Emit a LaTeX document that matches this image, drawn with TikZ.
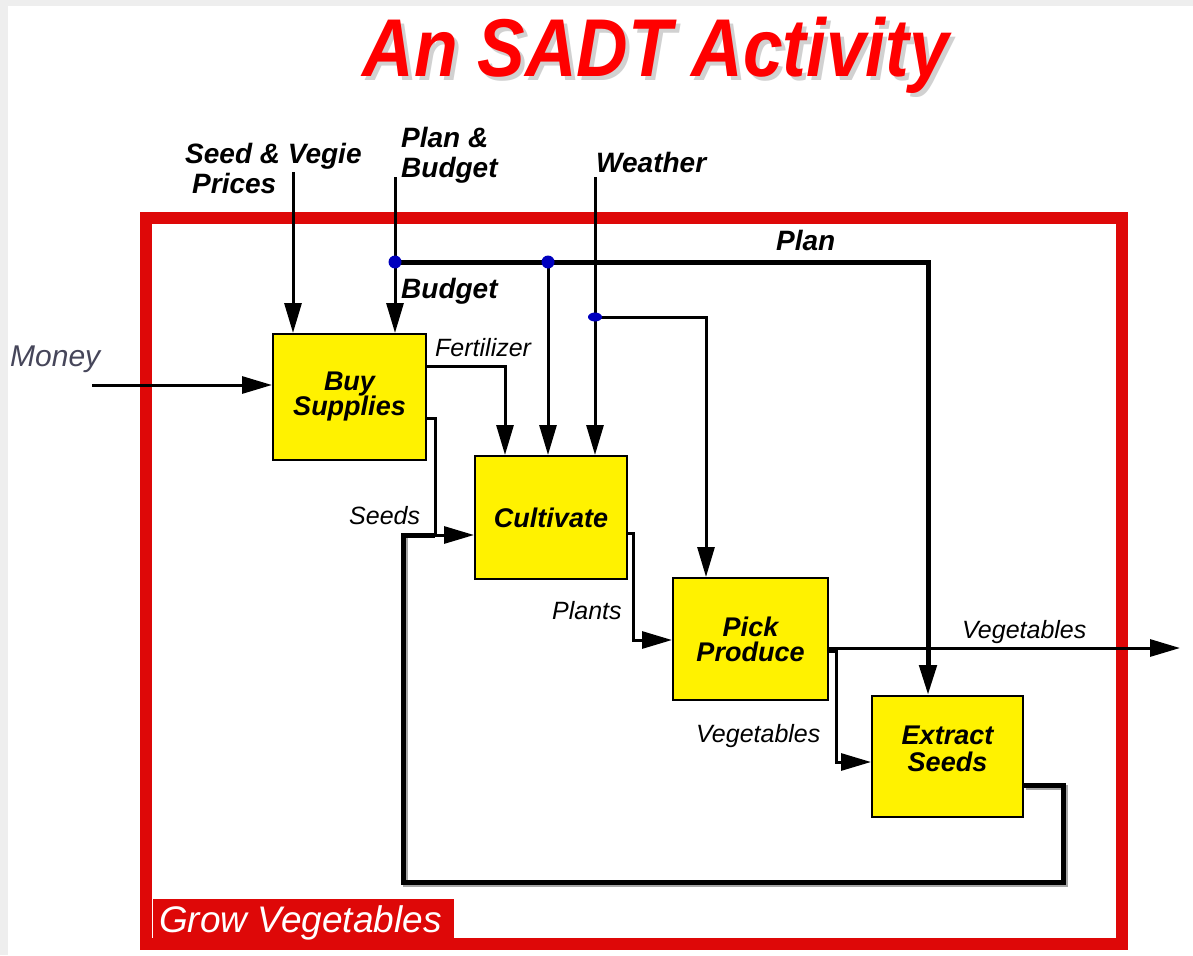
\documentclass[tikz,border=0pt]{standalone}
\usepackage{fontspec}
\setmainfont{Liberation Sans}
\usetikzlibrary{arrows.meta}
\definecolor{framered}{RGB}{222,8,8}
\definecolor{titlered}{RGB}{255,0,0}
\definecolor{boxyellow}{RGB}{255,242,0}
\definecolor{dotblue}{RGB}{0,0,190}
\definecolor{pagegray}{RGB}{238,238,238}
\definecolor{moneygray}{RGB}{70,70,90}
\begin{document}
\begin{tikzpicture}[x=1pt,y=-1pt,
  activity/.style={draw=black, line width=2pt, fill=boxyellow, inner sep=0pt,
    align=center, font=\fontsize{27}{27}\selectfont\bfseries\itshape},
  bigtip/.style={-{Triangle[length=30pt,width=17pt]}},
  thinflow/.style={line width=3pt},
  thickflow/.style={line width=5pt},
  ctrl/.style={font=\fontsize{28}{30}\selectfont\bfseries\itshape, inner sep=0pt},
  flowlbl/.style={font=\fontsize{25}{25}\selectfont\itshape, inner sep=0pt},
  junction/.style={fill=dotblue}
]
\useasboundingbox (0,0) rectangle (1193,955);
\fill[pagegray] (0,0) rectangle (1193,955);
\fill[white] (8,6) rectangle (1193,955);

% title with drop shadow
\node[anchor=base, text=black!18, inner sep=0pt] (titleshadow) at (660,81)
  {\fontsize{82}{82}\selectfont\bfseries\itshape\scalebox{0.87}[1]{An SADT Activity}};
\node[anchor=base, text=titlered, inner sep=0pt] (title) at (656,77)
  {\fontsize{82}{82}\selectfont\bfseries\itshape\scalebox{0.87}[1]{An SADT Activity}};

% outer activity frame and its name tag
\draw[framered, line width=12pt] (146,218) rectangle (1122,944);
\fill[framered] (153,899) rectangle (454,938);
\node[text=white, anchor=base west, inner sep=0pt,
  font=\fontsize{37}{37}\selectfont\itshape] (grow) at (159,932) {Grow Vegetables};

% activity boxes
\node[activity, minimum width=153pt, minimum height=126pt] (buy) at (349.5,397) {Buy\\[-2pt]Supplies};
\node[activity, minimum width=152pt, minimum height=123pt] (cult) at (551,517.5) {Cultivate};
\node[activity, minimum width=155pt, minimum height=122pt] (pick) at (750.5,639) {Pick\\[-2pt]Produce};
\node[activity, minimum width=151pt, minimum height=121pt] (ext) at (947.5,756.5) {Extract\\Seeds\\[-12pt]};

% free ends and corners
\coordinate (money) at (92,385);
\coordinate (prices) at (293,172);
\coordinate (pbtop) at (395,177);
\coordinate (pbdot) at (395,262);
\coordinate (plandot) at (548,262);
\coordinate (plancorner) at (928,262);
\coordinate (wtop) at (595,177);
\coordinate (wdot) at (595,317);
\coordinate (wcorner) at (706,317);
\coordinate (vegout) at (1180,648);
\coordinate (seedjoin) at (435,535);

% seed-feedback loop (with shadow)
\draw[thickflow, black!35] ([xshift=2pt,yshift=-30.5pt]ext.east) -| (1065,884) -| (405,538);
\draw[thickflow, line join=miter] ([yshift=-28.5pt]ext.east) -| (1063,882) -| (403,535) -- (seedjoin);

% inputs and controls
\draw[thinflow, bigtip] (money) -- ([yshift=12pt]buy.west);
\draw[thinflow, bigtip] (prices) -- ([xshift=-56.5pt]buy.north);
\draw[thinflow, bigtip] (pbtop) -- ([xshift=45.5pt]buy.north);
\draw[thickflow, bigtip] (pbdot) -- (plancorner) -- ([xshift=-19.5pt]ext.north);
\draw[thinflow, bigtip] (plandot) -- ([xshift=-3pt]cult.north);
\draw[thinflow, bigtip] (wtop) -- ([xshift=44pt]cult.north);
\draw[thinflow, bigtip] (wdot) -- (wcorner) -- ([xshift=-44.5pt]pick.north);

% flows between activities
\draw[thinflow, bigtip] ([yshift=31pt]buy.east) -| ([xshift=-46pt]cult.north);
\draw[thinflow] ([yshift=-21pt]buy.east) -| (seedjoin);
\draw[thinflow, bigtip] (seedjoin) -- ([yshift=-17.5pt]cult.west);
\draw[thinflow, bigtip] ([yshift=-15.5pt]cult.east) -| (633,640) -- ([yshift=-1pt]pick.west);
\draw[thinflow, bigtip] ([yshift=-9pt]pick.east) -- (vegout);
\draw[thinflow, bigtip] ([yshift=-12pt]pick.east) -| (836,762) -- ([yshift=-5.5pt]ext.west);

% branch points
\fill[junction] (pbdot) circle (6.5pt);
\fill[junction] (plandot) circle (6.5pt);
\fill[junction] (wdot) ellipse (7pt and 4.5pt);

% labels
\node[ctrl, anchor=base west] (lblprices1) at (185,163) {Seed \& Vegie};
\node[ctrl, anchor=base west] (lblprices2) at (192,193) {Prices};
\node[ctrl, anchor=base west] (lblpb1) at (401,147) {Plan \&};
\node[ctrl, anchor=base west] (lblpb2) at (401,177) {Budget};
\node[ctrl, anchor=base west] (lblweather) at (596,172) {Weather};
\node[ctrl, anchor=base west] (lblplan) at (776,250) {Plan};
\node[ctrl, anchor=base west] (lblbudget) at (401,298) {Budget};
\node[flowlbl, anchor=base west] (lblfert) at (435,356) {Fertilizer};
\node[anchor=base west, inner sep=0pt, text=moneygray,
  font=\fontsize{30}{30}\selectfont\itshape] (lblmoney) at (10,366) {Money};
\node[flowlbl, anchor=base west] (lblseeds) at (349,524) {Seeds};
\node[flowlbl, anchor=base west] (lblplants) at (552,619) {Plants};
\node[flowlbl, anchor=base west] (lblveg1) at (962,638) {Vegetables};
\node[flowlbl, anchor=base west] (lblveg2) at (696,742) {Vegetables};
\end{tikzpicture}
\end{document}
